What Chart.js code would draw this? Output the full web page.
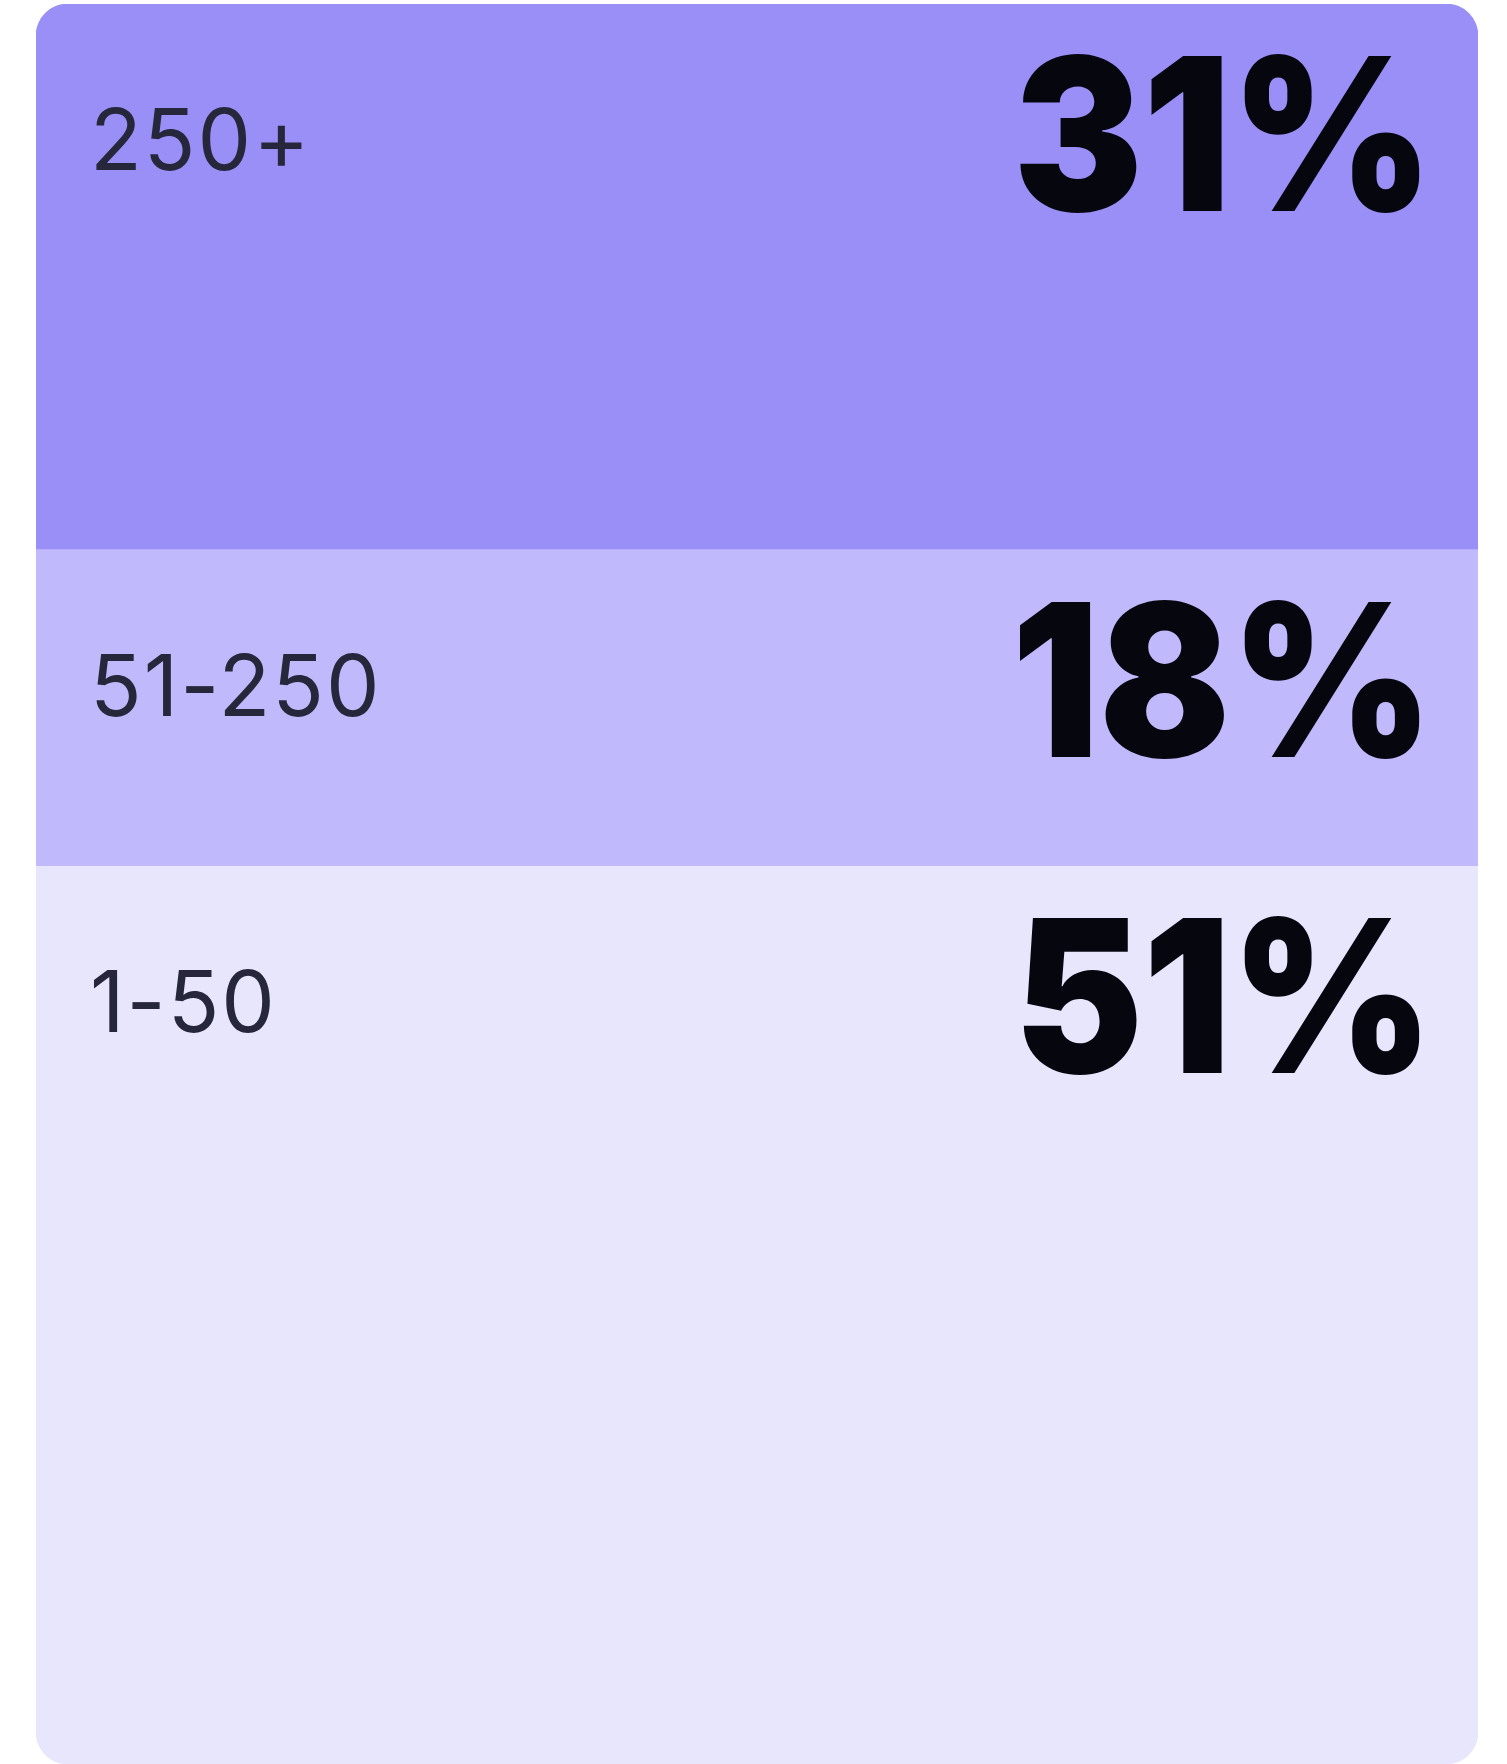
<!DOCTYPE html>
<html>
<head>
<meta charset="utf-8">
<title>Company size</title>
<script src="https://cdn.jsdelivr.net/npm/chart.js@4.4.1/dist/chart.umd.min.js"></script>
<style>
    html, body { margin: 0; padding: 0; background: #ffffff; }
    #wrap { position: relative; width: 1507px; height: 1764px; }
</style>
</head>
<body>
<div id="wrap"><canvas id="sizeChart"></canvas></div>
<script>
// Data (stack order: bottom to top)
const categories = ['Company size'];
const segmentLabels = ['1-50', '51-250', '250+'];
const segmentValues = [51, 18, 31];
const segmentColors = ['#e8e6fd', '#c0b9fb', '#9a8ff7'];

// Draws the range name on the left and the big percentage on the right of each segment
const segmentTextPlugin = {
    id: 'segmentText',
    afterDatasetsDraw(chart) {
        const ctx = chart.ctx;
        const area = chart.chartArea;
        ctx.save();
        chart.data.datasets.forEach((dataset, i) => {
            const bar = chart.getDatasetMeta(i).data[0];
            if (!bar) return;
            const top = Math.min(bar.y, bar.base);

            ctx.textBaseline = 'alphabetic';
            ctx.textAlign = 'left';
            ctx.fillStyle = '#27273c';
            ctx.font = '400 85px Inter, "Noto Sans", sans-serif';
            ctx.letterSpacing = '2px';
            ctx.fillText(dataset.label, area.left + 54, top + 166);
            ctx.letterSpacing = '0px';

            // big number, squeezed a little to match the narrower display face
            ctx.save();
            ctx.translate(area.right - 45, top + 207);
            ctx.scale(0.91, 1);
            ctx.textAlign = 'right';
            ctx.fillStyle = '#06060f';
            ctx.font = '900 213px Inter, "Noto Sans", sans-serif';
            ctx.fillText(dataset.data[0] + '%', 0, 0);
            ctx.restore();
        });
        ctx.restore();
    }
};

function radiusFor(i) {
    const r = 32;
    if (i === 0) return { topLeft: 0, topRight: 0, bottomLeft: r, bottomRight: r };
    if (i === segmentValues.length - 1) return { topLeft: r, topRight: r, bottomLeft: 0, bottomRight: 0 };
    return 0;
}

const ctx = document.getElementById('sizeChart').getContext('2d');
new Chart(ctx, {
    type: 'bar',
    data: {
        labels: categories,
        datasets: segmentLabels.map((label, i) => ({
            label: label,
            data: [segmentValues[i]],
            backgroundColor: segmentColors[i],
            borderWidth: 0,
            borderSkipped: false,
            borderRadius: radiusFor(i),
            barPercentage: 1,
            categoryPercentage: 1
        }))
    },
    options: {
        responsive: true,
        maintainAspectRatio: false,
        animation: false,
        layout: { padding: { left: 36, right: 29, top: 4, bottom: 0 } },
        plugins: {
            legend: { display: false },
            tooltip: { enabled: false }
        },
        scales: {
            x: { stacked: true, display: false },
            y: { stacked: true, display: false, min: 0, max: 100 }
        }
    },
    plugins: [segmentTextPlugin]
});
</script>
</body>
</html>
